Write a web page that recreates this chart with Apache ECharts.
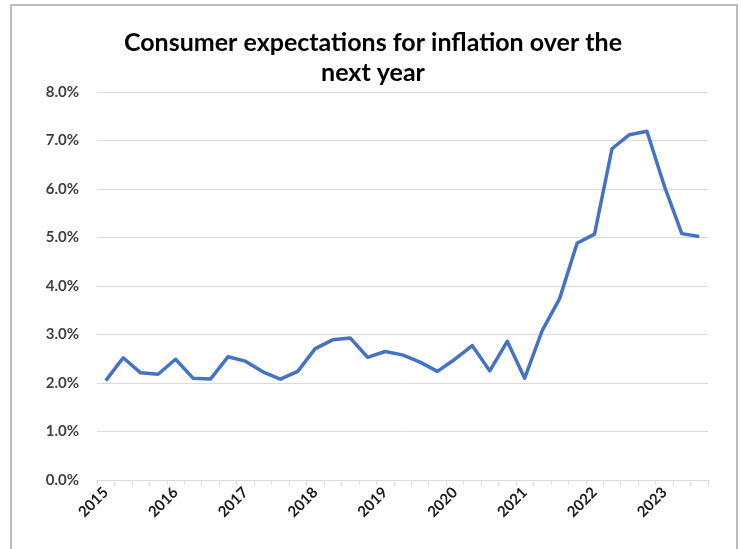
<!DOCTYPE html>
<html>
<head>
<meta charset="utf-8">
<script src="https://cdn.jsdelivr.net/npm/echarts@6/dist/echarts.min.js"></script>
<style>
  html, body { margin: 0; padding: 0; background: #fff; }
  #chart { width: 741px; height: 549px; }
</style>
</head>
<body>
<div id="chart"></div>
<script>
// Quarterly periods, 2015 Q1 through 2023 Q3
const quarters = [
  '2015 Q1','2015 Q2','2015 Q3','2015 Q4',
  '2016 Q1','2016 Q2','2016 Q3','2016 Q4',
  '2017 Q1','2017 Q2','2017 Q3','2017 Q4',
  '2018 Q1','2018 Q2','2018 Q3','2018 Q4',
  '2019 Q1','2019 Q2','2019 Q3','2019 Q4',
  '2020 Q1','2020 Q2','2020 Q3','2020 Q4',
  '2021 Q1','2021 Q2','2021 Q3','2021 Q4',
  '2022 Q1','2022 Q2','2022 Q3','2022 Q4',
  '2023 Q1','2023 Q2','2023 Q3'
];

// Expected inflation over the next year, percent
const expectedInflation = [
  2.05, 2.52, 2.21, 2.18,
  2.49, 2.10, 2.08, 2.54,
  2.45, 2.23, 2.08, 2.24,
  2.71, 2.89, 2.93, 2.53,
  2.65, 2.58, 2.43, 2.24,
  2.49, 2.77, 2.25, 2.86,
  2.10, 3.08, 3.74, 4.88,
  5.07, 6.83, 7.12, 7.19,
  6.06, 5.08, 5.02
];

// Y axis ticks, percent
const yTicks = { min: 0, max: 8, step: 1 };

const chartTitle = 'Consumer expectations for inflation over the\nnext year';

const chart = echarts.init(document.getElementById('chart'), null, { renderer: 'canvas' });

chart.setOption({
  animation: false,
  backgroundColor: '#ffffff',
  title: {
    text: chartTitle,
    left: 368,
    top: 23,
    textAlign: 'center',
    textStyle: {
      fontFamily: 'Lato',
      fontWeight: 'bold',
      fontSize: 25,
      lineHeight: 30,
      color: '#000000'
    }
  },
  graphic: [{
    type: 'rect',
    shape: { x: 11, y: 5, width: 726, height: 560 },
    style: { fill: 'none', stroke: '#bcbcbc', lineWidth: 2 },
    silent: true
  }],
  grid: { left: 97, right: 33, top: 92, bottom: 69 },
  xAxis: {
    type: 'category',
    data: quarters,
    boundaryGap: true,
    axisLine: { lineStyle: { color: '#d9d9d9', width: 1 } },
    axisTick: { show: true, interval: 0, length: 5, lineStyle: { color: '#d9d9d9' } },
    axisLabel: {
      interval: 3,
      rotate: 45,
      margin: 10,
      fontFamily: 'Lato',
      fontWeight: 'bold',
      fontSize: 15,
      color: '#1a1a1a',
      formatter: v => v.slice(0, 4)
    },
    splitLine: { show: false }
  },
  yAxis: {
    type: 'value',
    min: yTicks.min,
    max: yTicks.max,
    interval: yTicks.step,
    axisLine: { show: false },
    axisTick: { show: false },
    axisLabel: {
      margin: 18,
      fontFamily: 'Lato',
      fontWeight: 'bold',
      fontSize: 15,
      color: '#404040',
      formatter: v => v.toFixed(1) + '%'
    },
    splitLine: { lineStyle: { color: '#d9d9d9', width: 1 } }
  },
  series: [{
    type: 'line',
    data: expectedInflation,
    symbol: 'none',
    lineStyle: { color: '#4472c4', width: 3.5, join: 'round' },
    itemStyle: { color: '#4472c4' }
  }]
});
</script>
</body>
</html>
